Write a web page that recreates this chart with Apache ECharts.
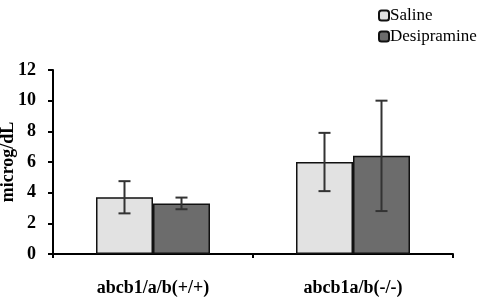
<!DOCTYPE html>
<html>
<head>
<meta charset="utf-8">
<script src="https://cdn.jsdelivr.net/npm/echarts@6/dist/echarts.min.js"></script>
<style>
  html, body { margin: 0; padding: 0; background: #fff; }
  #main { width: 485px; height: 300px; }
</style>
</head>
<body>
<div id="main"></div>
<script>
var categories = ['abcb1/a/b(+/+)', 'abcb1a/b(-/-)'];
var salineMean = [3.7, 6.0];
var salineErr = [1.05, 1.9];
var desiMean = [3.3, 6.4];
var desiErr = [0.38, 3.6];
var yTicks = [0, 2, 4, 6, 8, 10, 12];

var BAR_W = 57;
var FONT = '"Liberation Serif", "DejaVu Serif", serif';

var chart = echarts.init(document.getElementById('main'));

// error bar data: [categoryIndex, low, high]
function errData(mean, err) {
  return mean.map(function (m, i) { return [i, m - err[i], m + err[i]]; });
}

function errRender(offset) {
  return function (params, api) {
    var x = api.value(0);
    var lo = api.coord([x, api.value(1)]);
    var hi = api.coord([x, api.value(2)]);
    var cx = lo[0] + offset;
    var cap = 6;
    var style = { stroke: '#333', lineWidth: 2 };
    return {
      type: 'group',
      children: [
        { type: 'line', shape: { x1: cx, y1: hi[1], x2: cx, y2: lo[1] }, style: style },
        { type: 'line', shape: { x1: cx - cap, y1: hi[1], x2: cx + cap, y2: hi[1] }, style: style },
        { type: 'line', shape: { x1: cx - cap, y1: lo[1], x2: cx + cap, y2: lo[1] }, style: style }
      ]
    };
  };
}

var option = {
  animation: false,
  textStyle: { fontFamily: FONT },
  legend: {
    orient: 'vertical',
    left: 373,
    top: 2,
    itemWidth: 10,
    itemHeight: 10,
    itemGap: 4,
    data: ['Saline', 'Desipramine'],
    textStyle: { fontFamily: FONT, fontSize: 17, color: '#000', padding: [0, 0, 0, -4] }
  },
  grid: { left: 53, right: 32, top: 70, bottom: 46, outerBoundsMode: 'none' },
  xAxis: {
    type: 'category',
    data: categories,
    axisLine: { lineStyle: { color: '#000', width: 2 } },
    axisTick: { show: true, length: 4, lineStyle: { color: '#000', width: 2 } },
    axisLabel: { color: '#000', fontFamily: FONT, fontWeight: 'bold', fontSize: 18, margin: 25 }
  },
  yAxis: {
    type: 'value',
    min: 0,
    max: yTicks[yTicks.length - 1],
    interval: 2,
    name: 'microg/dL',
    nameLocation: 'middle',
    nameGap: 36,
    nameMoveOverlap: false,
    nameTextStyle: { color: '#000', fontFamily: FONT, fontWeight: 'bold', fontSize: 18 },
    axisLine: { show: true, lineStyle: { color: '#000', width: 2 } },
    axisTick: { show: true, length: 5, lineStyle: { color: '#000', width: 2 } },
    axisLabel: { color: '#000', fontFamily: FONT, fontWeight: 'bold', fontSize: 18, margin: 17 },
    splitLine: { show: false }
  },
  series: [
    {
      name: 'Saline',
      type: 'bar',
      barWidth: BAR_W,
      barGap: '0%',
      data: salineMean,
      itemStyle: { color: '#e2e2e2', borderColor: '#111', borderWidth: 1.5 }
    },
    {
      name: 'Desipramine',
      type: 'bar',
      barWidth: BAR_W,
      barGap: '0%',
      data: desiMean,
      itemStyle: { color: '#6c6c6c', borderColor: '#111', borderWidth: 1.5 }
    },
    {
      type: 'custom',
      renderItem: errRender(-BAR_W / 2),
      data: errData(salineMean, salineErr),
      encode: { x: 0, y: [1, 2] },
      z: 5
    },
    {
      type: 'custom',
      renderItem: errRender(BAR_W / 2),
      data: errData(desiMean, desiErr),
      encode: { x: 0, y: [1, 2] },
      z: 5
    }
  ]
};

chart.setOption(option);
</script>
</body>
</html>
